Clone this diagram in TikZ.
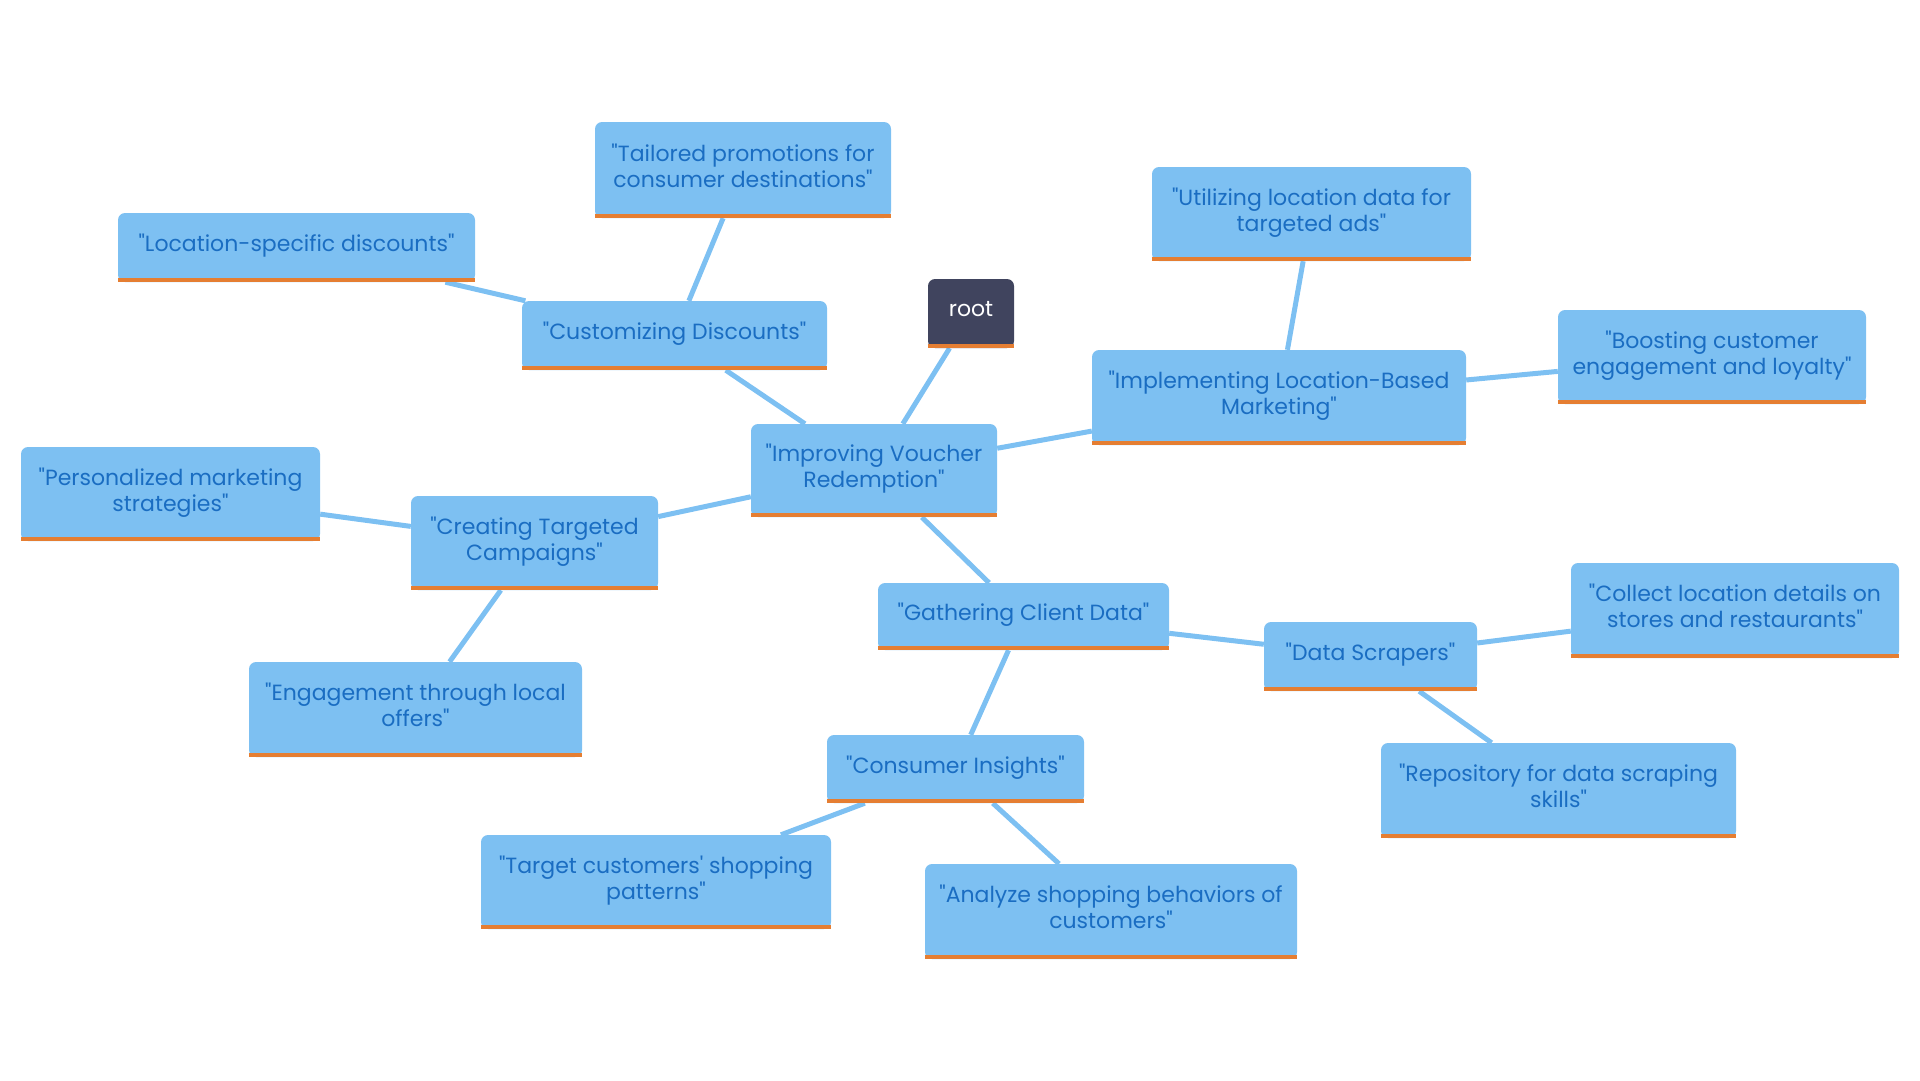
\documentclass[tikz,border=0pt]{standalone}
\usepackage{fontspec}
\setmainfont{Poppins}[Ligatures=TeXOff]
\usetikzlibrary{backgrounds}
\definecolor{boxblue}{HTML}{7DC0F2}
\definecolor{textblue}{HTML}{1A6DC2}
\definecolor{barorange}{HTML}{E57E32}
\definecolor{rootgray}{HTML}{40445E}

\begin{document}
\begin{tikzpicture}[
  x=1pt, y=-1pt,
  font=\fontsize{22}{26}\selectfont,
  topic/.style={rectangle, rounded corners=7pt, fill=boxblue, text=textblue, align=center, inner sep=0pt, text depth=9pt},
  rootbox/.style={topic, fill=rootgray, text=white},
  bar/.style={draw=barorange, line width=4pt},
  link/.style={draw=boxblue, line width=5pt}
]
\useasboundingbox (0,0) rectangle (1920,1080);

\node (root)      [rootbox, minimum width=86pt,  minimum height=69pt] at (971,313.5)   {root};
\node (improve)   [topic, minimum width=246pt, minimum height=93pt] at (874,470.5)   {"Improving Voucher\\Redemption"};
\node (custom)    [topic, minimum width=305pt, minimum height=69pt] at (674.5,335.5) {"Customizing Discounts"};
\node (tailor)    [topic, minimum width=296pt, minimum height=96pt] at (743,170)     {"Tailored promotions for\\consumer destinations"};
\node (locdisc)   [topic, minimum width=357pt, minimum height=69pt] at (296.5,247.5) {"Location-specific discounts"};
\node (implement) [topic, minimum width=374pt, minimum height=95pt] at (1279,397.5)  {"Implementing Location-Based\\Marketing"};
\node (utilize)   [topic, minimum width=319pt, minimum height=94pt] at (1311.5,214)  {"Utilizing location data for\\targeted ads"};
\node (boost)     [topic, minimum width=308pt, minimum height=94pt] at (1712,357)    {"Boosting customer\\engagement and loyalty"};
\node (create)    [topic, minimum width=247pt, minimum height=94pt] at (534.5,543)   {"Creating Targeted\\Campaigns"};
\node (personal)  [topic, minimum width=299pt, minimum height=94pt] at (170.5,494)   {"Personalized marketing\\strategies"};
\node (engage)    [topic, minimum width=333pt, minimum height=95pt] at (415.5,709.5) {"Engagement through local\\offers"};
\node (gather)    [topic, minimum width=291pt, minimum height=67pt] at (1023.5,616.5) {"Gathering Client Data"};
\node (scrapers)  [topic, minimum width=213pt, minimum height=69pt] at (1370.5,656.5) {"Data Scrapers"};
\node (collect)   [topic, minimum width=328pt, minimum height=95pt] at (1735,610.5)  {"Collect location details on\\stores and restaurants"};
\node (repo)      [topic, minimum width=355pt, minimum height=95pt] at (1558.5,790.5) {"Repository for data scraping\\skills"};
\node (insights)  [topic, minimum width=257pt, minimum height=68pt] at (955.5,769)   {"Consumer Insights"};
\node (target)    [topic, minimum width=350pt, minimum height=94pt] at (656,882)     {"Target customers' shopping\\patterns"};
\node (analyze)   [topic, minimum width=372pt, minimum height=95pt] at (1111,911.5)  {"Analyze shopping behaviors of\\customers"};

% orange strip under every box
\foreach \n in {root,improve,custom,tailor,locdisc,implement,utilize,boost,create,personal,engage,gather,scrapers,collect,repo,insights,target,analyze}
  \draw [bar] ([yshift=2pt]\n.south west) -- ([yshift=2pt]\n.south east);

\begin{scope}[on background layer]
\foreach \a/\b in {root/improve, improve/custom, improve/implement, improve/create, improve/gather,
                   custom/tailor, custom/locdisc, implement/utilize, implement/boost,
                   create/personal, create/engage, gather/scrapers, gather/insights,
                   scrapers/collect, scrapers/repo, insights/target, insights/analyze}
  \draw [link] (\a) -- (\b);
\end{scope}
\end{tikzpicture}
\end{document}
